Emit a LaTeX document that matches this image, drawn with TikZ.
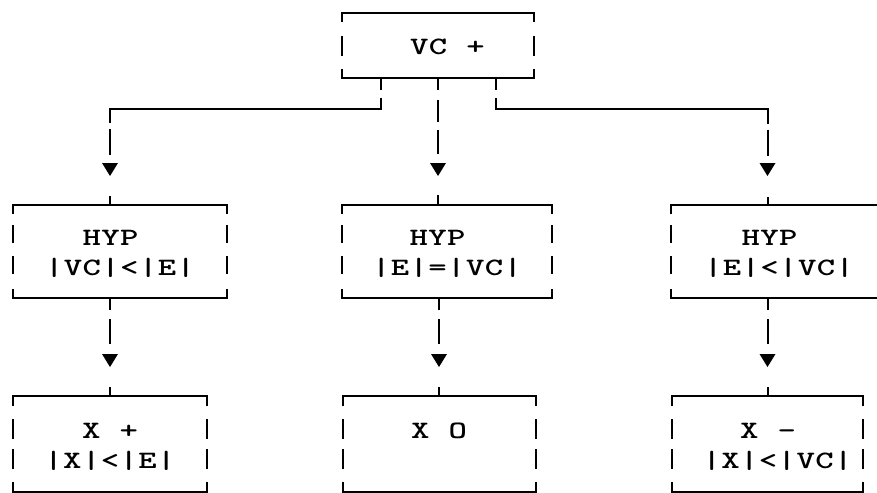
\documentclass[tikz,border=0pt]{standalone}
\usepackage{graphicx}
\usetikzlibrary{calc}
\newlength\typitch
\setlength\typitch{18.8pt}
\newcommand\tychar[1]{\makebox[\typitch][c]{\scalebox{1.4}[1]{#1}}}
\def\tyloop#1{\ifx#1\relax\else\tychar{#1}\expandafter\tyloop\fi}
\newcommand\tyline[1]{\rule[-6pt]{0pt}{30pt}\tyloop#1\relax}
\newcommand\dnarrow[1]{\fill ($(#1)+(-8,-42)$) -- ($(#1)+(8,-42)$) -- ($(#1)+(0,-29)$) -- cycle;}
\newcommand\tyframe[2]{%
  \draw[hrule] (#1.north west) -- (#1.north east);
  \draw[hrule] (#1.south west) -- (#1.south east);
  \draw[rule, dash pattern=#2] (#1.north west) -- (#1.south west);
  \draw[rule, dash pattern=#2] (#1.north east) -- (#1.south east);}
\tikzset{
  box/.style={draw=none, rectangle, inner sep=0pt, outer sep=0pt, align=left,
    font=\ttfamily\bfseries\fontsize{25}{30}\selectfont},
  rule/.style={line width=2pt},
  hrule/.style={line width=2pt, line cap=rect},
}
\begin{document}
\begin{tikzpicture}[x=1pt, y=-1pt]
\useasboundingbox (0,0) rectangle (877,492);
\clip (0,0) rectangle (877,492);
\fill[white] (0,0) rectangle (877,492);

\node[box, minimum width=192pt, minimum height=65pt] (A) at (438,45.5) {\tyline{~VC~+}};
\node[box, minimum width=214pt, minimum height=93pt] (B1) at (120,251.5) {\tyline{~~HYP}\\\tyline{|VC|<|E|}};
\node[box, minimum width=210pt, minimum height=93pt] (B2) at (447,251.5) {\tyline{~~HYP}\\\tyline{|E|=|VC|}};
\node[box, minimum width=216pt, minimum height=93pt] (B3) at (779,251.5) {\tyline{~~HYP}\\\tyline{|E|<|VC|}};
\node[box, minimum width=194pt, minimum height=96pt] (C1) at (110,444) {\tyline{~~X~+}\\\tyline{|X|<|E|}};
\node[box, minimum width=193pt, minimum height=96pt] (C2) at (439,444) {\tyline{X~O}\\\tyline{~}};
\node[box, minimum width=191pt, minimum height=96pt] (C3) at (767.5,444) {\hspace*{20pt}\tyline{~~X~-}\\\hspace*{20pt}\tyline{|X|<|VC|}};

\tyframe{A}{on 9pt off 14pt on 20pt off 13pt on 9pt}
\tyframe{B1}{on 9pt off 11pt on 18pt off 13pt on 18pt off 15pt on 9pt}
\tyframe{B2}{on 9pt off 11pt on 18pt off 13pt on 18pt off 15pt on 9pt}
\tyframe{B3}{on 9pt off 11pt on 18pt off 13pt on 18pt off 15pt on 9pt}
\tyframe{C1}{on 10pt off 13pt on 20pt off 10pt on 20pt off 13pt on 10pt}
\tyframe{C2}{on 10pt off 13pt on 20pt off 10pt on 20pt off 13pt on 10pt}
\tyframe{C3}{on 10pt off 13pt on 20pt off 10pt on 20pt off 13pt on 10pt}

\coordinate (tB1) at (C1.north |- B1.north);
\coordinate (tB2) at (A.south |- B2.north);
\coordinate (tB3) at (C3.north |- B3.north);

% top to middle row
\draw[rule, dash pattern=on 12pt off 8pt on 296pt off 6pt on 26pt off 41pt on 10pt]
  ($(A.south)+(-57,0)$) |- ($(C1.north |- A.south)+(0,31)$) -- (tB1);
\draw[rule, dash pattern=on 12pt off 10pt on 22pt off 8pt on 24pt off 41pt on 10pt]
  (A.south) -- (tB2);
\draw[rule, dash pattern=on 12pt off 8pt on 297pt off 6pt on 26pt off 41pt on 10pt]
  ($(A.south)+(58,0)$) |- ($(C3.north |- A.south)+(0,31)$) -- (tB3);
\dnarrow{tB1}
\dnarrow{tB2}
\dnarrow{tB3}

% middle to bottom row
\draw[rule, dash pattern=on 12pt off 9pt on 25pt off 43pt on 10pt] (C1.north |- B1.south) -- (C1.north);
\draw[rule, dash pattern=on 12pt off 9pt on 25pt off 43pt on 10pt] (C2.north |- B2.south) -- (C2.north);
\draw[rule, dash pattern=on 12pt off 9pt on 25pt off 43pt on 10pt] (C3.north |- B3.south) -- (C3.north);
\dnarrow{C1.north}
\dnarrow{C2.north}
\dnarrow{C3.north}
\end{tikzpicture}
\end{document}
